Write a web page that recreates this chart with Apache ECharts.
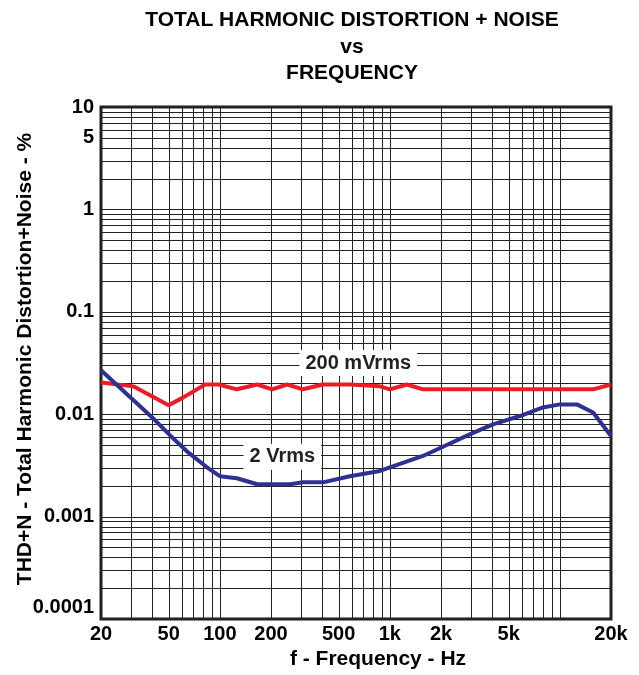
<!DOCTYPE html>
<html>
<head>
<meta charset="utf-8">
<script src="https://cdn.jsdelivr.net/npm/echarts@6/dist/echarts.min.js"></script>
<style>
  html, body { margin: 0; padding: 0; background: #fff; }
  #main { width: 639px; height: 675px; }
</style>
</head>
<body>
<div id="main"></div>
<script>
// 200 mVrms curve
var freq200 = [20, 31, 50, 61, 82, 98, 126, 166, 203, 249, 308, 404, 582, 874, 1000, 1262, 1566, 15700, 20000];
var thd200 = [0.0204, 0.0187, 0.0122, 0.0146, 0.0195, 0.0195, 0.0175, 0.0195, 0.0175, 0.0195, 0.0175, 0.0195, 0.0195, 0.0187, 0.0175, 0.0195, 0.0175, 0.0175, 0.0195];
// 2 Vrms curve
var freq2 = [20, 40, 51, 64, 84, 100, 126, 166, 259, 308, 404, 582, 874, 1566, 2950, 4040, 5830, 7960, 10000, 12600, 15700, 20000];
var thd2 = [0.0269, 0.0093, 0.0062, 0.00434, 0.00303, 0.00248, 0.00237, 0.00207, 0.00207, 0.00216, 0.00216, 0.00248, 0.00279, 0.00391, 0.00636, 0.00796, 0.0096, 0.01164, 0.01247, 0.01247, 0.0104, 0.00612];
// tick labels
var xTickLabels = [20, 50, 100, 200, 500, 1000, 2000, 5000, 20000];
var yTickLabels = [10, 5, 1, 0.1, 0.01, 0.001, 0.0001];
// curve annotations [freq, value, text]
var noteLabels = [[652, 0.0316, '200 mVrms'], [233, 0.00384, '2 Vrms']];

var X_MIN = 20, X_MAX = 20000, Y_MIN = 0.0001, Y_MAX = 10;
var FONT = '"Liberation Sans", Arial, sans-serif';
var TICK_FONT = 'bold 20px ' + FONT;

function pairs(xs, ys) {
  return xs.map(function (x, i) { return [x, ys[i]]; });
}
function has(list, v) {
  return list.some(function (t) { return Math.abs(t - v) / t < 1e-6; });
}
function crisp(p) { return Math.round(p) + 0.5; }

// log paper grid values (1..9 per decade)
var xGrid = [];
[10, 100, 1000, 10000].forEach(function (d) {
  for (var m = 1; m <= 9; m++) {
    var v = m * d;
    if (v >= X_MIN && v <= X_MAX) xGrid.push(v);
  }
});
var yGrid = [];
[0.0001, 0.001, 0.01, 0.1, 1, 10].forEach(function (d) {
  for (var m = 1; m <= 9; m++) {
    var v = Number((m * d).toPrecision(3));
    if (v >= Y_MIN && v <= Y_MAX) yGrid.push(v);
  }
});

function renderXGrid(params, api) {
  var v = xGrid[params.dataIndex];
  var p0 = api.coord([v, Y_MIN]);
  var p1 = api.coord([v, Y_MAX]);
  var x = crisp(p0[0]);
  var children = [{
    type: 'line',
    shape: { x1: x, y1: p0[1], x2: x, y2: p1[1] },
    style: { stroke: '#222', lineWidth: 1 }
  }];
  if (has(xTickLabels, v)) {
    children.push({
      type: 'text', x: p0[0], y: p0[1] + 5,
      style: { text: v >= 1000 ? (v / 1000) + 'k' : String(v), font: TICK_FONT, fill: '#000', align: 'center', verticalAlign: 'top' }
    });
  }
  return { type: 'group', children: children };
}

function renderYGrid(params, api) {
  var v = yGrid[params.dataIndex];
  var p0 = api.coord([X_MIN, v]);
  var p1 = api.coord([X_MAX, v]);
  var y = crisp(p0[1]);
  var children = [{
    type: 'line',
    shape: { x1: p0[0], y1: y, x2: p1[0], y2: y },
    style: { stroke: '#222', lineWidth: 1 }
  }];
  if (has(yTickLabels, v)) {
    var atBottom = Math.abs(v - Y_MIN) / Y_MIN < 1e-6;
    children.push({
      type: 'text', x: p0[0] - 7, y: atBottom ? p0[1] - 2 : p0[1],
      style: { text: String(v), font: TICK_FONT, fill: '#000', align: 'right', verticalAlign: atBottom ? 'bottom' : 'middle' }
    });
  }
  return { type: 'group', children: children };
}

var myChart = echarts.init(document.getElementById('main'));

var noteLabel = {
  show: true, position: 'inside', fontFamily: FONT, fontSize: 20, fontWeight: 'bold',
  color: '#231f20', backgroundColor: '#fff', padding: [3, 6]
};

var option = {
  animation: false,
  title: {
    text: 'TOTAL HARMONIC DISTORTION + NOISE\nvs\nFREQUENCY',
    left: 347,
    top: 2,
    textAlign: 'center',
    textStyle: { fontFamily: FONT, fontSize: 21, fontWeight: 'bold', color: '#000', lineHeight: 26.5 }
  },
  grid: {
    left: 101, right: 28, top: 107, bottom: 55,
    show: true, borderColor: '#231f20', borderWidth: 3, backgroundColor: '#fff'
  },
  xAxis: {
    type: 'log', logBase: 10, min: X_MIN, max: X_MAX,
    name: 'f - Frequency - Hz', nameLocation: 'middle', nameGap: 30,
    nameTextStyle: { fontFamily: FONT, fontSize: 21, fontWeight: 'bold', color: '#000', padding: [0, 0, 0, 44] },
    axisLine: { show: false }, axisTick: { show: false }, axisLabel: { show: false },
    splitLine: { show: false }
  },
  yAxis: {
    type: 'log', logBase: 10, min: Y_MIN, max: Y_MAX,
    name: 'THD+N - Total Harmonic Distortion+Noise - %', nameLocation: 'middle', nameGap: 65,
    nameTextStyle: { fontFamily: FONT, fontSize: 21, fontWeight: 'bold', color: '#000', padding: [0, 0, 0, 8] },
    axisLine: { show: false }, axisTick: { show: false }, axisLabel: { show: false },
    splitLine: { show: false }
  },
  series: [
    {
      name: 'xgrid', type: 'custom', z: 1, silent: true, clip: false,
      data: xGrid.map(function (v) { return [v, 1]; }),
      renderItem: renderXGrid
    },
    {
      name: 'ygrid', type: 'custom', z: 1, silent: true, clip: false,
      data: yGrid.map(function (v) { return [100, v]; }),
      renderItem: renderYGrid
    },
    {
      name: '200 mVrms', type: 'line', z: 3,
      data: pairs(freq200, thd200),
      showSymbol: false,
      lineStyle: { color: '#ed1c24', width: 4 },
      markPoint: {
        symbol: 'rect', symbolSize: 0, silent: true, label: noteLabel,
        data: [{ coord: [noteLabels[0][0], noteLabels[0][1]], value: noteLabels[0][2] }]
      }
    },
    {
      name: '2 Vrms', type: 'line', z: 3,
      data: pairs(freq2, thd2),
      showSymbol: false,
      lineStyle: { color: '#2e3192', width: 4 },
      markPoint: {
        symbol: 'rect', symbolSize: 0, silent: true, label: noteLabel,
        data: [{ coord: [noteLabels[1][0], noteLabels[1][1]], value: noteLabels[1][2] }]
      }
    }
  ]
};

option && myChart.setOption(option);
</script>
</body>
</html>
